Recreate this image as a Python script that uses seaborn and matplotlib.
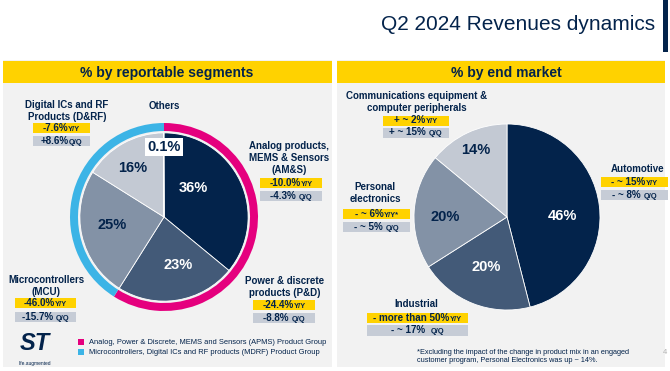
#!/usr/bin/env python3
"""Q2 2024 revenues dynamics slide: two pies with annotated growth tags."""

import matplotlib
matplotlib.use('Agg')
import matplotlib.pyplot as plt
from matplotlib.patches import Rectangle
import numpy as np
import seaborn as sns

# --- Data ---
seg_names = ['AM&S', 'P&D', 'MCU', 'D&RF', 'Others']
seg_share = [36, 23, 25, 16, 0.1]
seg_labels = ['36%', '23%', '25%', '16%', '0.1%']
seg_group = ['APMS', 'APMS', 'MDRF', 'MDRF', 'MDRF']
group_names = ['APMS', 'MDRF']
group_legend = ['Analog, Power & Discrete, MEMS and Sensors (APMS) Product Group',
                'Microcontrollers, Digital ICs and RF products (MDRF) Product Group']
seg_titles = ['Analog products,\nMEMS & Sensors\n(AM&S)',
              'Power & discrete\nproducts (P&D)',
              'Microcontrollers\n(MCU)',
              'Digital ICs and RF\nProducts (D&RF)',
              'Others']
seg_yoy = [('-10.0%', 'Y/Y'), ('-24.4%', 'Y/Y'), ('-46.0%', 'Y/Y'), ('-7.6%', 'Y/Y'), None]
seg_qoq = [('-4.3% ', 'Q/Q'), ('-8.8% ', 'Q/Q'), ('-15.7% ', 'Q/Q'), ('+8.6%', 'Q/Q'), None]

mkt_names = ['Automotive', 'Industrial', 'Personal\nelectronics',
             'Communications equipment &\ncomputer peripherals']
mkt_share = [46, 20, 20, 14]
mkt_labels = ['46%', '20%', '20%', '14%']
mkt_yoy = [('- ~ 15%', 'Y/Y'), ('- more than 50%', 'Y/Y'), ('- ~ 6%', 'Y/Y*'), ('+ ~ 2%', 'Y/Y')]
mkt_qoq = [('- ~ 8% ', 'Q/Q'), ('- ~ 17%  ', 'Q/Q'), ('- ~ 5% ', 'Q/Q'), ('+ ~ 15% ', 'Q/Q')]

title = 'Q2 2024 Revenues dynamics'
footnote = ('*Excluding the impact of the change in product mix in an engaged\n'
            'customer program, Personal Electronics was up ~ 14%.')

# --- Style ---
sns.set_theme(style='white')
plt.rcParams['font.family'] = ['Liberation Sans', 'DejaVu Sans']

NAVY = '#03234b'
shades = sns.blend_palette([NAVY, '#c3c9d3'], 4)
PINK = '#e5007e'
BLUE = '#3cb4e6'
YELLOW = '#ffd200'
TAGGRAY = '#c6ccd6'
PANEL = '#f2f2f2'

W, H = 670, 371
fig = plt.figure(figsize=(W / 100, H / 100), dpi=100)
fig.patch.set_facecolor('white')

# background axes in pixel units
bg = fig.add_axes([0, 0, 1, 1])
bg.set_xlim(0, W)
bg.set_ylim(H, 0)
bg.axis('off')
renderer = fig.canvas.get_renderer()

# panels and headers
bg.add_patch(Rectangle((3, 60), 329, 307, fc=PANEL, ec='none'))
bg.add_patch(Rectangle((337, 60), 328, 307, fc=PANEL, ec='none'))
bg.add_patch(Rectangle((3, 61), 329, 22, fc=YELLOW, ec='none'))
bg.add_patch(Rectangle((337, 61), 328, 22, fc=YELLOW, ec='none'))
bg.add_patch(Rectangle((663, 0), 5, 52, fc=NAVY, ec='none'))
bg.text(167, 72.5, '% by reportable segments', ha='center', va='center',
        fontsize=10, fontweight='bold', color=NAVY)
bg.text(506, 72.5, '% by end market', ha='center', va='center',
        fontsize=10, fontweight='bold', color=NAVY)
bg.text(655, 24, title, ha='right', va='center', fontsize=15, color=NAVY)


def tag(x0, y0, w, h, fc, parts, fs=7.1, sfs=5.4):
    """Colored box with a big main value and a small suffix."""
    bg.add_patch(Rectangle((x0, y0), w, h, fc=fc, ec='none'))
    main, suffix = parts
    yb = y0 + h * 0.5 + 2.6
    t1 = bg.text(0, yb, main, ha='left', va='baseline', fontsize=fs,
                 fontweight='bold', color=NAVY)
    t2 = bg.text(0, yb, suffix, ha='left', va='baseline', fontsize=sfs,
                 fontweight='bold', color=NAVY)
    w1 = t1.get_window_extent(renderer).width
    w2 = t2.get_window_extent(renderer).width
    start = x0 + (w - w1 - w2) / 2
    t1.set_x(start)
    t2.set_x(start + w1)


def heading(x, y, text):
    bg.text(x, y, text, ha='center', va='center', fontsize=7,
            fontweight='bold', color=NAVY, linespacing=1.25)


def pie_axes(cx, cy, r):
    ax = fig.add_axes([(cx - r) / W, (H - cy - r) / H, 2 * r / W, 2 * r / H])
    ax.axis('off')
    return ax


def fix_limits(ax):
    # pie() pads the limits, so reset them to the unit circle afterwards
    ax.set_xlim(-1, 1)
    ax.set_ylim(-1, 1)
    ax.set_aspect('equal')


def label_wedges(ax, wedges, labels, dists, shifts, colors):
    for wdg, lab, d, s, c in zip(wedges, labels, dists, shifts, colors):
        ang = np.deg2rad((wdg.theta1 + wdg.theta2) / 2 + s)
        ax.text(d * np.cos(ang), d * np.sin(ang), lab, ha='center', va='center',
                fontsize=10.5, fontweight='bold', color=c)


# --- Left pie: reportable segments ---
axl = pie_axes(164, 217, 94)
group_share = [sum(v for v, g in zip(seg_share, seg_group) if g == name) for name in group_names]
axl.pie(group_share, radius=1.0, startangle=90, counterclock=False,
        colors=[PINK, BLUE], wedgeprops=dict(width=0.085, edgecolor='none'))
seg_colors = [shades[0], shades[1], shades[2], shades[3], shades[3]]
wl, _ = axl.pie(seg_share, radius=0.895, startangle=90, counterclock=False,
                colors=seg_colors, wedgeprops=dict(edgecolor='white', linewidth=0.6))
fix_limits(axl)
label_wedges(axl, wl[:4], seg_labels[:4], [0.44, 0.53, 0.56, 0.62], [20, 7, -4, 3],
             ['white', 'white', NAVY, NAVY])
axl.text(0, 0.745, seg_labels[4], ha='center', va='center', fontsize=10.5,
         fontweight='bold', color=NAVY,
         bbox=dict(fc='white', ec='none', boxstyle='square,pad=0.15'))

heading(289, 158, seg_titles[0])
tag(260, 178, 62, 10, YELLOW, seg_yoy[0])
tag(260, 191, 62, 10, TAGGRAY, seg_qoq[0])
heading(285, 287, seg_titles[1])
tag(253, 300, 62, 10, YELLOW, seg_yoy[1])
tag(253, 313, 62, 10, TAGGRAY, seg_qoq[1])
heading(46, 286, seg_titles[2])
tag(15, 298, 61, 10, YELLOW, seg_yoy[2])
tag(15, 312, 61, 10, TAGGRAY, seg_qoq[2])
heading(67, 111, seg_titles[3])
tag(33, 123, 57, 10, YELLOW, seg_yoy[3])
tag(33, 136, 57, 10, TAGGRAY, seg_qoq[3])
heading(164, 106, seg_titles[4])

# legend for product groups
for i, (c, txt) in enumerate(zip([PINK, BLUE], group_legend)):
    y = 342 + i * 10
    bg.add_patch(Rectangle((78, y - 3), 5.5, 6, fc=c, ec='none'))
    bg.text(89, y, txt, ha='left', va='center', fontsize=5.4, color=NAVY)

# logo
bg.text(35, 344, 'ST', ha='center', va='center', fontsize=17, fontweight='bold',
        fontstyle='italic', color=NAVY)
bg.text(35, 363, 'life.augmented', ha='center', va='center', fontsize=3.5, color=NAVY)

# --- Right pie: end markets ---
axr = pie_axes(507, 217, 93)
wr, _ = axr.pie(mkt_share, radius=1.0, startangle=90, counterclock=False,
                colors=shades, wedgeprops=dict(edgecolor='white', linewidth=0.6))
fix_limits(axr)
label_wedges(axr, wr, mkt_labels, [0.6, 0.58, 0.67, 0.8], [-6, -1, 4, 0],
             ['white', 'white', NAVY, NAVY])

heading(638, 169, mkt_names[0])
tag(601, 177, 67, 10, YELLOW, mkt_yoy[0])
tag(601, 190, 67, 10, TAGGRAY, mkt_qoq[0])
heading(416, 304, mkt_names[1])
tag(367, 313, 101, 10, YELLOW, mkt_yoy[1])
tag(367, 325, 101, 11, TAGGRAY, mkt_qoq[1])
heading(375, 193, mkt_names[2])
tag(343, 209, 67, 10, YELLOW, mkt_yoy[2])
tag(343, 222, 67, 10, TAGGRAY, mkt_qoq[2])
heading(417, 102, mkt_names[3])
tag(383, 116, 66, 9.5, YELLOW, mkt_yoy[3])
tag(383, 128, 66, 9.5, TAGGRAY, mkt_qoq[3])

bg.text(417, 356.5, footnote, ha='left', va='center', fontsize=5.3, color=NAVY,
        linespacing=1.3)
bg.text(665, 352, '4', ha='center', va='center', fontsize=5.5, color='#b0b0b0')

fig.savefig('out.png', dpi=100)
